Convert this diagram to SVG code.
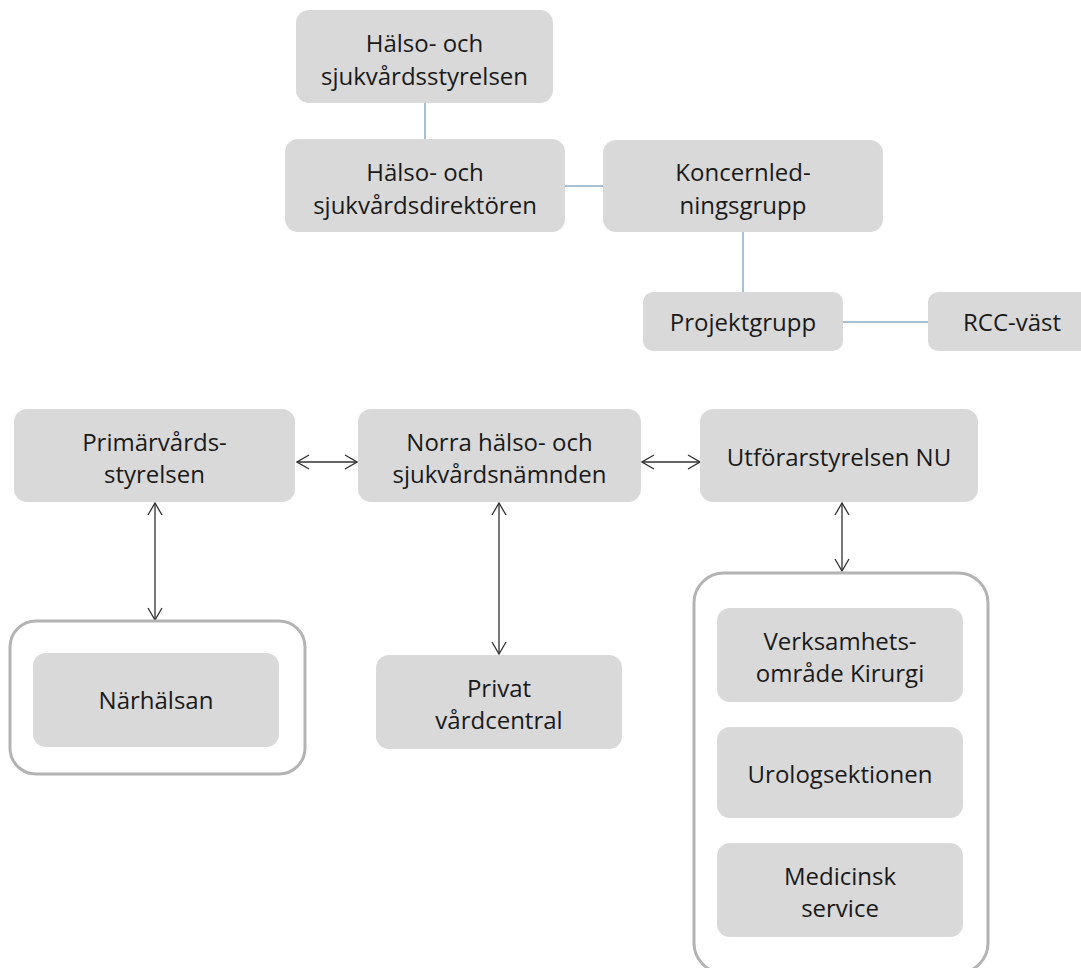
<svg xmlns="http://www.w3.org/2000/svg" width="1081" height="968" viewBox="0 0 1081 968">
<style>
.box{fill:#d9d9d9;}
.cont{fill:#ffffff;stroke:#b3b3b3;stroke-width:3;}
.t{font-family:"Open Sans","Liberation Sans",sans-serif;font-size:24px;fill:#1a1a1a;text-anchor:middle;}
.ln{stroke:#8eaac1;stroke-width:1.5;fill:none;}
.ar{stroke:#303030;stroke-width:1.3;fill:none;marker-start:url(#ah);marker-end:url(#ah);}
</style>
<defs>
<marker id="ah" viewBox="0 0 14 16" refX="13" refY="8" markerWidth="14" markerHeight="16" markerUnits="userSpaceOnUse" orient="auto-start-reverse">
<path d="M1,1 L13,8 L1,15" fill="none" stroke="#303030" stroke-width="1.3"/>
</marker>
</defs>
<rect width="1081" height="968" fill="#ffffff"/>
<g id="connectors">
<line class="ln" x1="425" y1="103" x2="425" y2="139"/>
<line class="ln" x1="565" y1="186" x2="603" y2="186"/>
<line class="ln" x1="743" y1="232" x2="743" y2="292"/>
<line class="ln" x1="843" y1="322" x2="928" y2="322"/>
<line class="ar" x1="297" y1="462" x2="357" y2="462"/>
<line class="ar" x1="642" y1="462" x2="700" y2="462"/>
<line class="ar" x1="155" y1="503" x2="155" y2="620"/>
<line class="ar" x1="499" y1="503" x2="499" y2="654"/>
<line class="ar" x1="842" y1="503" x2="842" y2="571"/>
</g>
<g id="n_halsostyrelsen">
<rect class="box" x="296" y="10" width="257" height="93" rx="13"/>
<text class="t" x="424.5" y="52">Hälso- och</text>
<text class="t" x="424.5" y="85">sjukvårdsstyrelsen</text>
</g>
<g id="n_direktoren">
<rect class="box" x="285" y="139" width="280" height="93" rx="13"/>
<text class="t" x="425" y="181">Hälso- och</text>
<text class="t" x="425" y="214">sjukvårdsdirektören</text>
</g>
<g id="n_koncern">
<rect class="box" x="603" y="140" width="280" height="92" rx="13"/>
<text class="t" x="743" y="181">Koncernled-</text>
<text class="t" x="743" y="214">ningsgrupp</text>
</g>
<g id="n_projekt">
<rect class="box" x="643" y="292" width="200" height="59" rx="10"/>
<text class="t" x="743" y="331">Projektgrupp</text>
</g>
<g id="n_rcc">
<rect class="box" x="928" y="292" width="170" height="59" rx="10"/>
<text class="t" x="1012" y="331">RCC-väst</text>
</g>
<g id="n_primar">
<rect class="box" x="14" y="409" width="281" height="93" rx="13"/>
<text class="t" x="154.5" y="451">Primärvårds-</text>
<text class="t" x="154.5" y="483">styrelsen</text>
</g>
<g id="n_norra">
<rect class="box" x="358" y="409" width="283" height="93" rx="13"/>
<text class="t" x="499.5" y="451">Norra hälso- och</text>
<text class="t" x="499.5" y="483">sjukvårdsnämnden</text>
</g>
<g id="n_utforar">
<rect class="box" x="700" y="409" width="278" height="93" rx="13"/>
<text class="t" x="839" y="466">Utförarstyrelsen NU</text>
</g>
<g id="n_narhalsan">
<rect class="cont" x="10" y="621" width="295" height="153" rx="26"/>
<rect class="box" x="33" y="653" width="246" height="94" rx="13"/>
<text class="t" x="156" y="709">Närhälsan</text>
</g>
<g id="n_privat">
<rect class="box" x="376" y="655" width="246" height="94" rx="13"/>
<text class="t" x="499" y="697">Privat</text>
<text class="t" x="499" y="729">vårdcentral</text>
</g>
<g id="n_nu_container">
<rect class="cont" x="694" y="573" width="294" height="400" rx="30"/>
</g>
<g id="n_verksamhet">
<rect class="box" x="717" y="608" width="246" height="94" rx="13"/>
<text class="t" x="840" y="650">Verksamhets-</text>
<text class="t" x="840" y="682">område Kirurgi</text>
</g>
<g id="n_urolog">
<rect class="box" x="717" y="727" width="246" height="91" rx="13"/>
<text class="t" x="840" y="783">Urologsektionen</text>
</g>
<g id="n_medicinsk">
<rect class="box" x="717" y="843" width="246" height="94" rx="13"/>
<text class="t" x="840" y="885">Medicinsk</text>
<text class="t" x="840" y="917">service</text>
</g>
</svg>
